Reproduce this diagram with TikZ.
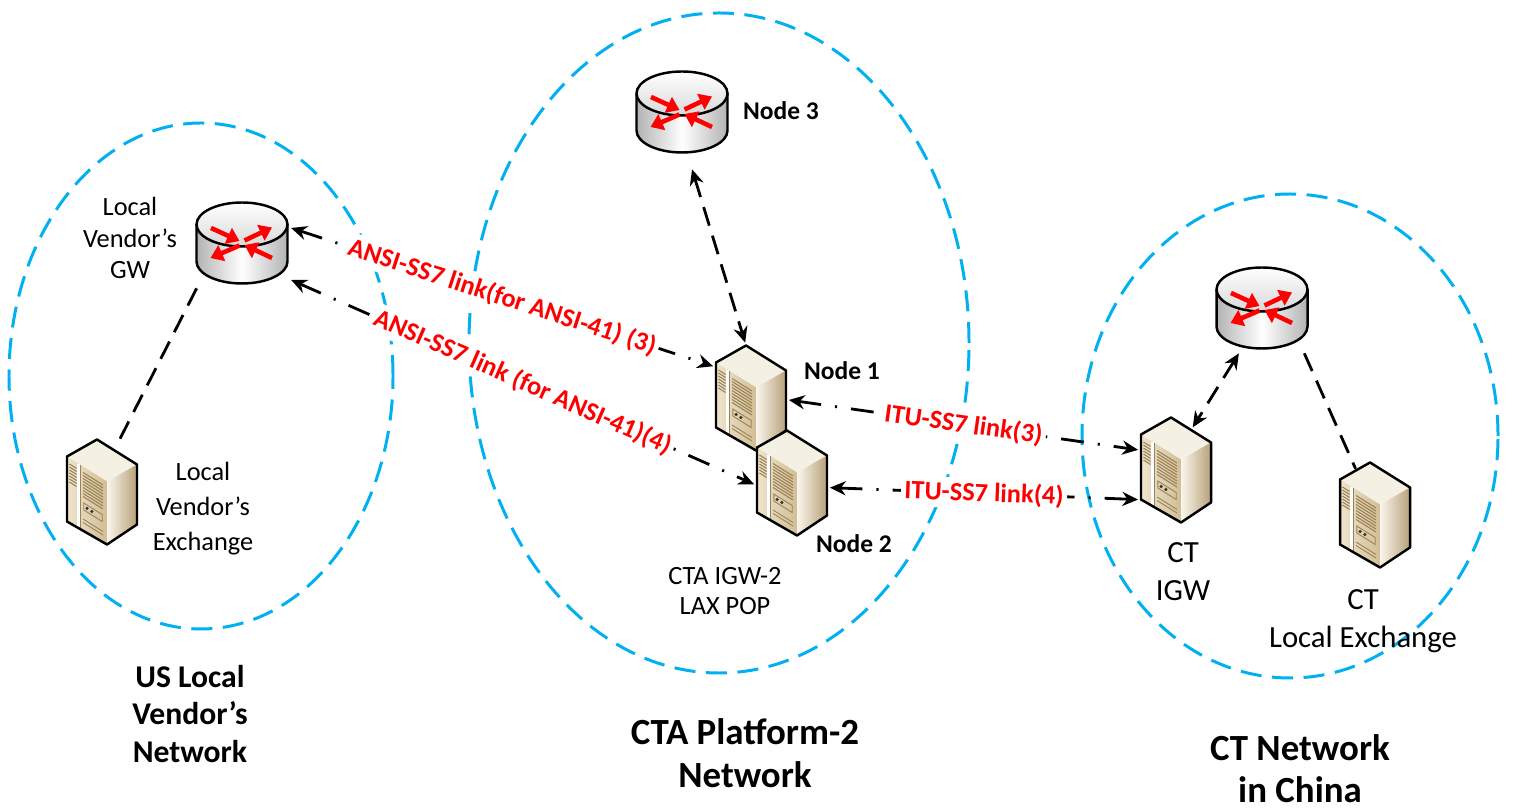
\documentclass[tikz,border=0pt]{standalone}
\usepackage{fontspec}
\setsansfont{Carlito}
\usetikzlibrary{arrows.meta}
\definecolor{netblue}{HTML}{00B0F0}
\definecolor{srvtop}{HTML}{F5F0E4}
\definecolor{srvfa}{HTML}{EEE4CD}
\definecolor{srvfb}{HTML}{D2BE96}
\definecolor{srvra}{HTML}{FAF6EC}
\definecolor{srvrb}{HTML}{B7A07A}
\definecolor{srvln}{HTML}{9A8257}

% router icon, centred on (0,0)
\newcommand{\rtricon}{%
  \shade[left color=gray!60,right color=gray!60,middle color=white] (-0.91,0.37) -- (-0.91,-0.37) arc[start angle=180,end angle=360,x radius=0.91,y radius=0.44] -- (0.91,0.37) -- cycle;
  \draw[line width=1.4pt] (-0.91,0.37) -- (-0.91,-0.37) arc[start angle=180,end angle=360,x radius=0.91,y radius=0.44] -- (0.91,0.37);
  \draw[line width=1.4pt,top color=white,bottom color=gray!30] (0,0.37) ellipse[x radius=0.91,y radius=0.44];
  \begin{scope}[shift={(0,0.37)}]
    \foreach \a/\b in {{(-0.62,0.30)}/{(-0.05,0.04)},{(0.05,0.05)}/{(0.60,0.31)},{(-0.05,-0.05)}/{(-0.63,-0.30)},{(0.60,-0.30)}/{(0.05,-0.04)}}
      \draw[rtrarrow] \a -- \b;
  \end{scope}
}
% server icon, centred on (0,0)
\newcommand{\srvicon}{%
  \fill[srvtop] (-0.7,0.71) -- (-0.1,1.05) -- (0.7,0.55) -- (0.1,0.21) -- cycle;
  \shade[left color=srvfa,right color=srvfb] (-0.7,0.71) -- (0.1,0.21) -- (0.1,-1.05) -- (-0.7,-0.59) -- cycle;
  \shade[left color=srvra,right color=srvrb] (0.1,0.21) -- (0.7,0.55) -- (0.7,-0.65) -- (0.1,-1.05) -- cycle;
  \draw[white,line width=1.2pt] (-0.47,0.55) -- (-0.47,-0.71);
  \draw[srvln,line width=0.5pt] (-0.43,0.53) -- (-0.43,-0.73);
  \foreach \d in {0.12,0.18,...,0.49}
    \draw[srvln,line width=0.6pt] (-0.652,0.68-\d) -- (-0.508,0.59-\d);
  \foreach \d in {0.12,0.18,...,0.61}
    \draw[srvln,line width=0.6pt] (-0.38,0.51-\d) -- (0.02,0.26-\d);
  \draw[srvln,line width=0.5pt] (-0.364,-0.22) -- (0.004,-0.45) -- (0.004,-0.59) -- (-0.364,-0.36) -- cycle;
  \fill[black!80] (-0.3,-0.33) circle[radius=0.035] (-0.204,-0.39) circle[radius=0.035];
  \foreach \d in {1.05,1.12}
    \draw[srvln,line width=0.5pt] (-0.38,0.51-\d) -- (0.02,0.26-\d);
  \draw[line width=1.4pt,line join=round] (-0.7,0.71) -- (-0.1,1.05) -- (0.7,0.55) -- (0.7,-0.65) -- (0.1,-1.05) -- (-0.7,-0.59) -- cycle;
}

\tikzset{rtrarrow/.style={red,line width=2.6pt,-{Triangle[length=7pt,width=9.5pt]}}}
\tikzset{rtr/.style={rectangle,minimum width=1.95cm,minimum height=1.8cm,inner sep=0pt,
  path picture={\begin{scope}[shift={(path picture bounding box.center)}]\rtricon\end{scope}}}}
\tikzset{srv/.style={rectangle,minimum width=1.5cm,minimum height=2.2cm,inner sep=0pt,
  path picture={\begin{scope}[shift={(path picture bounding box.center)}]\srvicon\end{scope}}}}
\tikzset{net/.style={draw=netblue,line width=1.7pt,dash pattern=on 12pt off 6pt}}
\tikzset{lnk/.style={line width=1.6pt,<->,dash pattern=on 13pt off 8pt on 1.2pt off 8pt}}
\tikzset{dsh/.style={line width=1.6pt,dash pattern=on 11pt off 6pt}}
\tikzset{lbl/.style={text=red,fill=white,inner sep=2pt,font=\sffamily\bfseries\fontsize{15}{18}\selectfont}}
\tikzset{dev/.style={align=center,inner sep=0pt,font=\sffamily\fontsize{15}{18}\selectfont}}
\tikzset{ct/.style={align=center,inner sep=0pt,font=\sffamily\fontsize{17.5}{21.5}\selectfont}}
\tikzset{nn/.style={inner sep=0pt,font=\sffamily\bfseries\fontsize{14.5}{17}\selectfont}}
\tikzset{ttl/.style={align=center,inner sep=0pt,font=\sffamily\bfseries\fontsize{21}{24.4}\selectfont}}

\begin{document}
\begin{tikzpicture}[font=\sffamily,>={Stealth[length=9pt,width=8pt]}]
  \useasboundingbox (0,0) rectangle (30.26,16.14);
  % network clouds
  \draw[net] (4.02,8.62) ellipse[x radius=3.84,y radius=5.06];
  \draw[net] (14.38,9.28) ellipse[x radius=5,y radius=6.6];
  \draw[net] (25.8,7.42) ellipse[x radius=4.16,y radius=4.84];
  % devices
  \node[rtr] (gw) at (4.84,11.28) {};
  \node[srv] (lv) at (2.04,6.3) {};
  \node[rtr] (n3) at (13.64,13.9) {};
  \node[srv] (n1) at (15.02,8.18) {};
  \node[srv] (n2) at (15.84,6.48) {};
  \node[rtr] (ctr) at (25.24,9.98) {};
  \node[srv] (igw) at (23.52,6.74) {};
  \node[srv] (le) at (27.5,5.84) {};
  % links
  \draw[lnk] (gw.17) -- node[lbl,sloped] {ANSI-SS7 link(for ANSI-41) (3)} (n1.140);
  \draw[lnk] (gw.-37) -- node[lbl,sloped] {ANSI-SS7 link (for ANSI-41)(4)} (n2.182);
  \draw[lnk] (n1.-3) -- node[lbl,sloped] {ITU-SS7 link(3)} (igw.152);
  \draw[lnk] (n2.-7) -- node[lbl,sloped] {ITU-SS7 link(4)} (igw.218);
  \draw[dsh,<->,shorten <=0.25cm] (n3.-82) -- (n1.96);
  \draw[dsh,<->,shorten >=-0.3cm] (ctr.243) -- (igw.66);
  \draw[dsh,shorten >=-0.2cm] (ctr.-47) -- (le.113);
  \draw[dsh,shorten >=-0.2cm] (gw.225) -- (lv.71);
  % texts
  \node[dev] (gwt) at (2.6,11.38) {Local\\Vendor’s\\GW};
  \node[dev,font=\sffamily\fontsize{15}{19.9}\selectfont] (lvt) at (4.06,5.96) {Local\\Vendor’s\\Exchange};
  \node[nn] (n3t) at (15.62,13.92) {Node 3};
  \node[nn] (n1t) at (16.84,8.72) {Node 1};
  \node[nn] (n2t) at (17.08,5.26) {Node 2};
  \node[dev,font=\sffamily\fontsize{15}{17}\selectfont] (pop) at (14.5,4.32) {CTA IGW-2\\LAX POP};
  \node[ct] (igwt) at (23.66,4.7) {CT\\IGW};
  \node[ct] (let) at (27.26,3.72) {CT\\Local Exchange};
  \node[ttl,font=\sffamily\bfseries\fontsize{18}{21.5}\selectfont] (usn) at (3.8,1.86) {US Local\\Vendor’s\\Network};
  \node[ttl] (ctan) at (14.9,1.08) {CTA Platform-2\\Network};
  \node[ttl,font=\sffamily\bfseries\fontsize{21}{23.8}\selectfont] (ctn) at (26.0,0.76) {CT Network\\in China};
\end{tikzpicture}
\end{document}
